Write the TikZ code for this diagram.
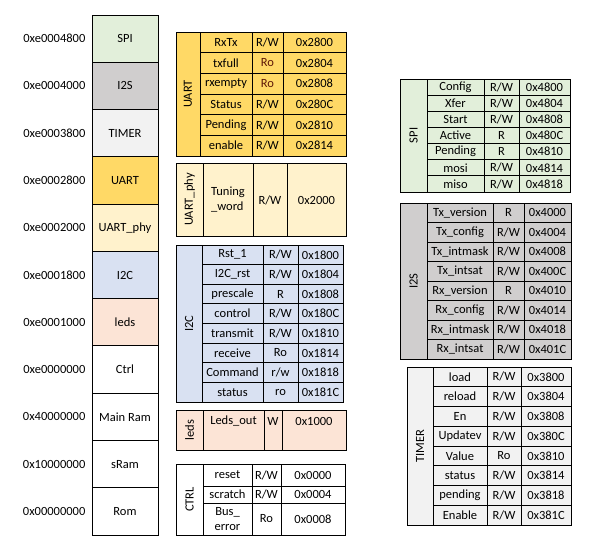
\documentclass[tikz,border=0pt]{standalone}
\usepackage{fontspec}
\setmainfont{Carlito}
\usetikzlibrary{positioning}
\definecolor{spicol}{HTML}{E2EFDA}
\definecolor{i2scol}{HTML}{D0CECE}
\definecolor{timcol}{HTML}{F2F2F2}
\definecolor{uartcol}{HTML}{FFD966}
\definecolor{phycol}{HTML}{FFF2CC}
\definecolor{i2ccol}{HTML}{D9E1F2}
\definecolor{ledcol}{HTML}{FCE4D6}
\definecolor{rocol}{HTML}{5E1808}
\tikzset{
  txt/.style={inner sep=0pt, font=\fontsize{12.5}{15}\selectfont},
  gridline/.style={draw=black, line width=0.9pt},
  mapcell/.style={txt, gridline, minimum width=66pt, minimum height=47.27pt},
  addr/.style={txt, anchor=east},
}
\def\RW{R/W}
\def\RoR{\textcolor{rocol}{Ro}}
% one register table: uses \xa..\xe, \ya, \yb and \tcol
\newcommand\regtab[4]{%
  \pgfmathsetmacro\rh{(\yb-\ya)/#4}
  \fill[\tcol] (\xa,\ya) rectangle (\xe,\yb);
  \foreach \n/\a/\r [count=\i] in {#3} {
    \pgfmathsetmacro\yc{\ya+(\i-0.5)*\rh}
    \node[txt] (#1-n\i) at ({(\xb+\xc)/2},\yc) {\n};
    \node[txt] (#1-a\i) at ({(\xc+\xd)/2},\yc) {\a};
    \node[txt] (#1-r\i) at ({(\xd+\xe)/2},\yc) {\r};
    \ifnum\i<#4 \draw[gridline] (\xb,{\ya+\i*\rh}) -- (\xe,{\ya+\i*\rh}); \fi
  }
  \draw[gridline] (\xa,\ya) rectangle (\xe,\yb)
    (\xb,\ya) -- (\xb,\yb) (\xc,\ya) -- (\xc,\yb) (\xd,\ya) -- (\xd,\yb);
  \node[txt, rotate=90] (#1-lbl) at ({(\xa+\xb)/2},{(\ya+\yb)/2}) {#2};
}
\begin{document}
\begin{tikzpicture}[x=1pt, y=-1pt]
  \useasboundingbox[fill=white] (0,0) rectangle (589,554);

  \foreach \lbl/\ad/\c [count=\i] in {SPI/0xe0004800/spicol, I2S/0xe0004000/i2scol,
      TIMER/0xe0003800/timcol, UART/0xe0002800/uartcol, UART\_phy/0xe0002000/phycol,
      I2C/0xe0001800/i2ccol, leds/0xe0001000/ledcol, Ctrl/0xe0000000/white,
      Main Ram/0x40000000/white, sRam/0x10000000/white, Rom/0x00000000/white} {
    \node[mapcell, fill=\c] (map\i) at (125,{15+(\i-0.5)*47.27}) {\lbl};
    \node[addr, left=6pt of map\i] (addr\i) {\ad};
  }

  \def\tcol{uartcol}\def\xa{176}\def\xb{200}\def\xc{252}\def\xd{283}\def\xe{346}
  \def\ya{32}\def\yb{156}
  \regtab{uart}{UART}{RxTx/\RW/0x2800, txfull/\RoR/0x2804, rxempty/\RoR/0x2808,
    Status/\RW/0x280C, Pending/\RW/0x2810, enable/\RW/0x2814}{6}

  \fill[phycol] (176,163) rectangle (346,236);
  \draw[gridline] (176,163) rectangle (346,236)
    (203,163) -- (203,236) (253,163) -- (253,236) (287,163) -- (287,236);
  \node[txt, rotate=90] (phy-lbl) at (189.5,199.5) {UART\_phy};
  \node[txt, align=left] (phy-n1) at (228,200) {Tuning\\\_word};
  \node[txt] (phy-a1) at (270,200) {\RW};
  \node[txt] (phy-r1) at (316.5,200) {0x2000};

  \def\tcol{i2ccol}\def\xa{176}\def\xb{202}\def\xc{263}\def\xd{298}\def\xe{343}
  \def\ya{245}\def\yb{402}
  \regtab{i2c}{I2C}{Rst\_1/\RW/0x1800, I2C\_rst/\RW/0x1804, prescale/R/0x1808,
    control/\RW/0x180C, transmit/\RW/0x1810, receive/Ro/0x1814,
    Command/r\slash w/0x1818, status/ro/0x181C}{8}

  \fill[ledcol] (176,410) rectangle (346,450);
  \draw[gridline] (176,410) rectangle (346,450)
    (203,410) -- (203,450) (264,410) -- (264,450) (282,410) -- (282,450);
  \node[txt, rotate=90] (leds-lbl) at (189.5,430) {leds};
  \node[txt] (leds-n1) at (233.5,421) {Leds\_out};
  \node[txt] (leds-a1) at (273,421) {W};
  \node[txt] (leds-r1) at (314,421) {0x1000};

  \draw[gridline] (176,464) rectangle (345,535)
    (203,464) -- (203,535) (252,464) -- (252,535) (281,464) -- (281,535)
    (203,486) -- (345,486) (203,503) -- (345,503);
  \node[txt, rotate=90] (ctrl-lbl) at (189.5,499.5) {CTRL};
  \node[txt] (ctrl-n1) at (227.5,475) {reset};
  \node[txt] (ctrl-a1) at (266.5,475) {\RW};
  \node[txt] (ctrl-r1) at (313,475) {0x0000};
  \node[txt] (ctrl-n2) at (227.5,494.5) {scratch};
  \node[txt] (ctrl-a2) at (266.5,494.5) {\RW};
  \node[txt] (ctrl-r2) at (313,494.5) {0x0004};
  \node[txt, align=center] (ctrl-n3) at (227.5,519) {Bus\_\\error};
  \node[txt] (ctrl-a3) at (266.5,519) {Ro};
  \node[txt] (ctrl-r3) at (313,519) {0x0008};

  \def\tcol{spicol}\def\xa{400}\def\xb{427}\def\xc{484}\def\xd{519}\def\xe{570}
  \def\ya{79}\def\yb{192}
  \regtab{spi}{SPI}{Config/\RW/0x4800, Xfer/\RW/0x4804, Start/\RW/0x4808,
    Active/R/0x480C, Pending/R/0x4810, mosi/\RW/0x4814, miso/\RW/0x4818}{7}

  \def\tcol{i2scol}\def\xa{400}\def\xb{427}\def\xc{493}\def\xd{524}\def\xe{571}
  \def\ya{203}\def\yb{359}
  \regtab{i2s}{I2S}{Tx\_version/R/0x4000, Tx\_config/\RW/0x4004,
    Tx\_intmask/\RW/0x4008, Tx\_intsat/\RW/0x400C, Rx\_version/R/0x4010,
    Rx\_config/\RW/0x4014, Rx\_intmask/\RW/0x4018, Rx\_intsat/\RW/0x401C}{8}

  \def\tcol{timcol}\def\xa{407}\def\xb{433}\def\xc{487}\def\xd{521}\def\xe{571}
  \def\ya{367}\def\yb{525}
  \regtab{tim}{TIMER}{load/\RW/0x3800, reload/\RW/0x3804, En/\RW/0x3808,
    Updatev/\RW/0x380C, Value/Ro/0x3810, status/\RW/0x3814,
    pending/\RW/0x3818, Enable/\RW/0x381C}{8}
\end{tikzpicture}
\end{document}
